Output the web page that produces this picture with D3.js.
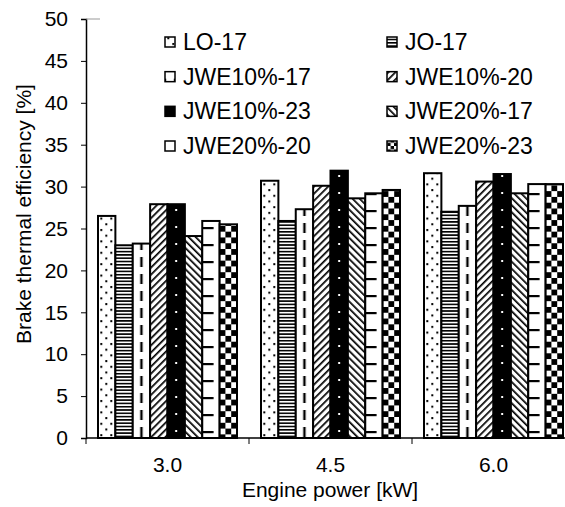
<!DOCTYPE html>
<html>
  <head>
    <meta charset="utf-8">
    <script src="https://d3js.org/d3.v7.min.js"></script>
    <style>
      body { margin: 0; background: #fff; }
      svg text { font-family: "Liberation Sans", Arial, sans-serif; fill: #000; }
    </style>
  </head>
  <body>
    <div id="chart"></div>
    <script>
      // DATA
      const categories = ["3.0", "4.5", "6.0"];
      const series = ["LO-17", "JO-17", "JWE10%-17", "JWE10%-20",
                      "JWE10%-23", "JWE20%-17", "JWE20%-20", "JWE20%-23"];
      const values = {
        "LO-17":     [26.5, 30.7, 31.6],
        "JO-17":     [23.0, 25.9, 27.0],
        "JWE10%-17": [23.2, 27.3, 27.7],
        "JWE10%-20": [27.9, 30.1, 30.6],
        "JWE10%-23": [27.9, 31.9, 31.5],
        "JWE20%-17": [24.1, 28.6, 29.2],
        "JWE20%-20": [25.9, 29.2, 30.3],
        "JWE20%-23": [25.5, 29.6, 30.3]
      };
      const yTicks = [0, 5, 10, 15, 20, 25, 30, 35, 40, 45, 50];

      // SIZE
      const width = 565, height = 507;
      const svg = d3.select("#chart").append("svg")
        .attr("width", width).attr("height", height);
      const defs = svg.append("defs");

      // SCALES
      const x = d3.scaleBand().domain(categories).range([86, 575]);
      const xs = d3.scaleBand().domain(series).range([12, x.bandwidth() - 12]);
      const y = d3.scaleLinear().domain([0, 50]).range([438, 19]);
      const bw = xs.bandwidth();

      // PATTERN BUILDER - one pattern per rectangle so it lines up with the bar
      function makePattern(id, name, x0, w) {
        if (name === "LO-17") {
          const p = defs.append("pattern").attr("id", id).attr("patternUnits", "userSpaceOnUse")
            .attr("x", x0).attr("y", 0).attr("width", 10).attr("height", 11.4);
          p.append("rect").attr("width", 10).attr("height", 11.4).attr("fill", "#fff");
          p.append("rect").attr("x", 2.3).attr("y", 1).attr("width", 2).attr("height", 2).attr("fill", "#000");
          p.append("rect").attr("x", 7.3).attr("y", 6.7).attr("width", 2).attr("height", 2).attr("fill", "#000");
        } else if (name === "JO-17") {
          const p = defs.append("pattern").attr("id", id).attr("patternUnits", "userSpaceOnUse")
            .attr("x", x0).attr("y", 0).attr("width", 4).attr("height", 3.3);
          p.append("rect").attr("width", 4).attr("height", 3.3).attr("fill", "#fff");
          p.append("rect").attr("width", 4).attr("height", 1.6).attr("fill", "#000");
        } else if (name === "JWE10%-17") {
          const p = defs.append("pattern").attr("id", id).attr("patternUnits", "userSpaceOnUse")
            .attr("x", x0).attr("y", 2).attr("width", w).attr("height", 17);
          p.append("rect").attr("width", w).attr("height", 17).attr("fill", "#fff");
          p.append("rect").attr("x", w / 2 - 1.2).attr("y", 0).attr("width", 2.4).attr("height", 10).attr("fill", "#000");
        } else if (name === "JWE10%-20" || name === "JWE20%-17") {
          const p = defs.append("pattern").attr("id", id).attr("patternUnits", "userSpaceOnUse")
            .attr("x", x0).attr("y", 0).attr("width", 5).attr("height", 5)
            .attr("patternTransform", name === "JWE10%-20" ? "rotate(45)" : "rotate(-45)");
          p.append("rect").attr("width", 5).attr("height", 5).attr("fill", "#fff");
          p.append("rect").attr("width", 1.7).attr("height", 5).attr("fill", "#000");
        } else if (name === "JWE10%-23") {
          const p = defs.append("pattern").attr("id", id).attr("patternUnits", "userSpaceOnUse")
            .attr("x", x0).attr("y", 5).attr("width", w).attr("height", 17);
          p.append("rect").attr("width", w).attr("height", 17).attr("fill", "#000");
          p.append("rect").attr("x", w / 2 - 1).attr("y", 0).attr("width", 2).attr("height", 2).attr("fill", "#fff");
        } else if (name === "JWE20%-20") {
          const p = defs.append("pattern").attr("id", id).attr("patternUnits", "userSpaceOnUse")
            .attr("x", x0).attr("y", 6).attr("width", w).attr("height", 17);
          p.append("rect").attr("width", w).attr("height", 17).attr("fill", "#fff");
          p.append("rect").attr("x", 0).attr("y", 0).attr("width", w * 0.65).attr("height", 2.2).attr("fill", "#000");
        } else {
          const s = w / 3;
          const p = defs.append("pattern").attr("id", id).attr("patternUnits", "userSpaceOnUse")
            .attr("x", x0).attr("y", 0).attr("width", 2 * s).attr("height", 2 * s);
          p.append("rect").attr("width", 2 * s).attr("height", 2 * s).attr("fill", "#fff");
          p.append("rect").attr("x", s).attr("y", 0).attr("width", s).attr("height", s).attr("fill", "#000");
          p.append("rect").attr("x", 0).attr("y", s).attr("width", s).attr("height", s).attr("fill", "#000");
        }
        return "url(#" + id + ")";
      }

      // BARS
      const bars = [];
      categories.forEach((c, ci) => {
        series.forEach((s, si) => bars.push({ cat: c, name: s, si: si, ci: ci, v: values[s][ci] }));
      });

      svg.append("g").selectAll("rect")
        .data(bars)
        .join("rect")
        .attr("x", d => x(d.cat) + xs(d.name))
        .attr("y", d => y(d.v))
        .attr("width", bw)
        .attr("height", d => y(0) - y(d.v))
        .attr("fill", d => makePattern("p" + d.ci + "_" + d.si, d.name, x(d.cat) + xs(d.name), bw))
        .attr("stroke", "#000")
        .attr("stroke-width", 2);

      // Y AXIS
      const yAxis = svg.append("g")
        .attr("transform", "translate(86,0)")
        .call(d3.axisLeft(y).tickValues(yTicks).tickSize(5).tickPadding(13));
      yAxis.select(".domain").attr("stroke-width", 1.5);
      yAxis.selectAll("text").style("font-size", "21px");
      // light top border stub at 50
      svg.append("line")
        .attr("x1", 86).attr("x2", 100)
        .attr("y1", y(50)).attr("y2", y(50))
        .attr("stroke", "#999");

      // X AXIS
      svg.append("line")
        .attr("x1", 86).attr("x2", 575)
        .attr("y1", y(0)).attr("y2", y(0))
        .attr("stroke", "#000").attr("stroke-width", 1.5);
      const bounds = categories.map(c => x(c)).concat([x.range()[1]]);
      svg.append("g").selectAll("line")
        .data(bounds)
        .join("line")
        .attr("x1", d => d).attr("x2", d => d)
        .attr("y1", y(0)).attr("y2", y(0) + 6)
        .attr("stroke", "#000");
      svg.append("g").selectAll("text")
        .data(categories)
        .join("text")
        .attr("x", d => x(d) + x.bandwidth() / 2)
        .attr("y", 472)
        .attr("text-anchor", "middle")
        .style("font-size", "21px")
        .text(d => d);

      // AXIS TITLES
      svg.append("text")
        .attr("x", 330).attr("y", 497)
        .attr("text-anchor", "middle")
        .style("font-size", "21px")
        .text("Engine power [kW]");
      svg.append("text")
        .attr("transform", "translate(24,214) rotate(-90)")
        .attr("dy", "0.35em")
        .attr("text-anchor", "middle")
        .style("font-size", "21px")
        .text("Brake thermal efficiency [%]");

      // LEGEND
      const colX = [165, 387];
      const rowY = d3.scalePoint().domain([0, 1, 2, 3]).range([42, 146]);
      const leg = svg.append("g").selectAll("g")
        .data(series)
        .join("g")
        .attr("transform", (d, i) => "translate(" + colX[i % 2] + "," + rowY(Math.floor(i / 2)) + ")");
      leg.append("rect")
        .attr("x", 0).attr("y", -5).attr("width", 10).attr("height", 10)
        .attr("fill", (d, i) => makePattern("leg" + i, d, colX[i % 2], 10))
        .attr("stroke", "#000").attr("stroke-width", 1.5);
      leg.append("text")
        .attr("x", 18).attr("y", 0).attr("dy", "0.35em")
        .style("font-size", "23px")
        .text(d => d);
    </script>
  </body>
</html>
